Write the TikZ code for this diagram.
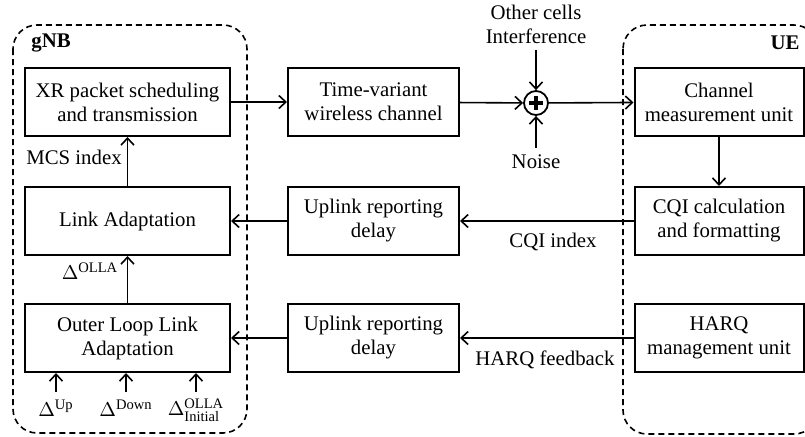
\documentclass[tikz,border=0pt]{standalone}
\usepackage{fontspec}
\setmainfont{Liberation Serif}
\usetikzlibrary{arrows.meta}
\begin{document}
\begin{tikzpicture}[x=0.5pt,y=-0.5pt,
		>={Straight Barb[length=3.5pt,width=6.5pt]},
		every node/.style={font=\fontsize{10.4}{12}\selectfont,align=center},
		blk/.style={draw,line width=1pt,inner sep=0pt,minimum height=34pt},
		link/.style={->,line width=0.8pt},
		grp/.style={draw,dash pattern=on 3pt off 2pt,line width=0.8pt,rounded corners=12pt}]
		\useasboundingbox (0,0) rectangle (805,436);
		\draw [grp] (13,25) rectangle (247,433);
		\draw [grp] (623,25) rectangle (818,434);
		\node [font=\fontsize{10.4}{12}\selectfont\bfseries] (gnb) at (51,43) {gNB};
		\node [font=\fontsize{10.4}{12}\selectfont\bfseries] (ue) at (785,43) {UE};
		\node [blk,minimum width=102.5pt] (xr) at (127.5,102) {XR packet scheduling\\and transmission};
		\node [blk,minimum width=102.5pt] (la) at (127.5,221) {Link Adaptation};
		\node [blk,minimum width=102.5pt] (olla) at (127.5,338) {Outer Loop Link\\Adaptation};
		\node [blk,minimum width=85.5pt] (tvc) at (373.5,102) {Time-variant\\wireless channel};
		\node [blk,minimum width=85.5pt] (ulcqi) at (373.5,221) {Uplink reporting\\delay};
		\node [blk,minimum width=85.5pt] (ulharq) at (373.5,338) {Uplink reporting\\delay};
		\node [blk,minimum width=84.5pt] (meas) at (719,102) {Channel\\measurement unit};
		\node [blk,minimum width=84.5pt] (cqi) at (719,221) {CQI calculation\\and formatting};
		\node [blk,minimum width=84.5pt] (harq) at (719,338) {HARQ\\management unit};
		\node [draw,circle,line width=0.9pt,minimum size=12pt,inner sep=0pt,
			path picture={\draw [line width=1.7pt] (sum.center) ++(-3.6pt,0) -- ++(7.2pt,0)
				(sum.center) ++(0,-3.6pt) -- ++(0,7.2pt);}] (sum) at (536,103) {};
		\node (intf) at (536,24) {Other cells\\Interference};
		\node (noise) at (536,162) {Noise};
		\node (mcs) at (74,157) {MCS index};
		\node (dolla) at (90,271) {$\Delta^{\mathrm{OLLA}}$};
		\node (cqiidx) at (553,242) {CQI index};
		\node (harqfb) at (545,360) {HARQ feedback};
		\node (dup) at (56,408) {$\Delta^{\mathrm{Up}}$};
		\node (ddown) at (126,408) {$\Delta^{\mathrm{Down}}$};
		\node (dinit) at (196,410) {$\Delta^{\mathrm{OLLA}}_{\mathrm{Initial}}$};
		\coordinate (dlev) at (0,392);
		\draw [link] (xr) -- (tvc);
		\draw [link] (tvc) -- (sum);
		\draw [link] (sum) -- (meas);
		\draw [link] (intf) -- (sum);
		\draw [link] (noise) -- (sum);
		\draw [link] (meas) -- (cqi);
		\draw [link] (cqi) -- (ulcqi);
		\draw [link] (ulcqi) -- (la);
		\draw [link] (harq) -- (ulharq);
		\draw [link] (ulharq) -- (olla);
		\draw [link] (olla) -- (la);
		\draw [link] (la) -- (xr);
		\foreach \d in {dup,ddown,dinit}
			\draw [link] (\d |- dlev) -- (\d |- olla.south);
		\end{tikzpicture}
\end{document}
